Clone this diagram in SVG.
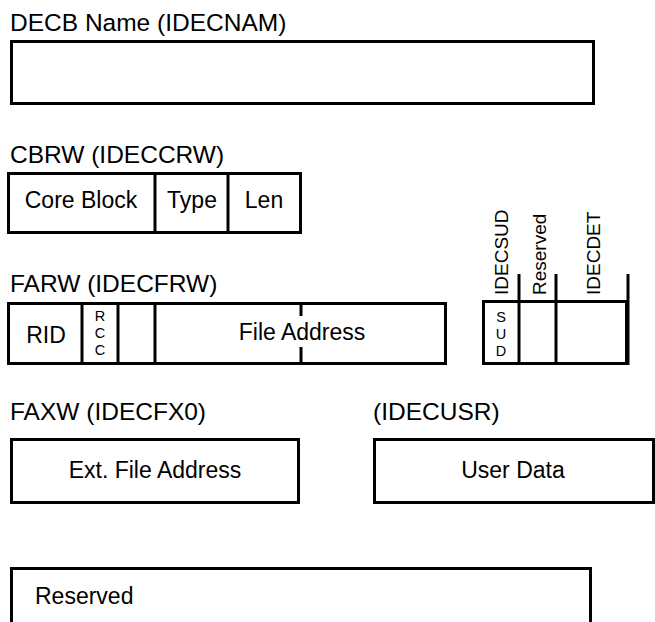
<svg xmlns="http://www.w3.org/2000/svg" width="655" height="622" viewBox="0 0 655 622">
<style>
  .box{fill:none;stroke:#000;stroke-width:3}
  .ln{stroke:#000;stroke-width:3;fill:none}
  .t{font-family:"Liberation Sans",Arial,sans-serif;font-size:23px;fill:#000}
  .ttl{font-family:"Liberation Sans",Arial,sans-serif;font-size:24.5px;fill:#000}
  .c{text-anchor:middle}
  .sm{font-family:"Liberation Sans",Arial,sans-serif;font-size:14.5px;fill:#000;text-anchor:middle}
  .rot{font-family:"Liberation Sans",Arial,sans-serif;font-size:19px;fill:#000}
</style>
<rect width="655" height="622" fill="#fff"/>

<g id="decb-name">
  <text class="ttl" x="10" y="31">DECB Name (IDECNAM)</text>
  <rect class="box" x="11.5" y="41.5" width="582" height="62"/>
</g>

<g id="cbrw">
  <text class="ttl" x="10" y="163">CBRW (IDECCRW)</text>
  <rect class="box" x="8.5" y="173.5" width="292" height="59"/>
  <line class="ln" x1="155" y1="172" x2="155" y2="234"/>
  <line class="ln" x1="228" y1="172" x2="228" y2="234"/>
  <text class="t c" x="81" y="208">Core Block</text>
  <text class="t c" x="192" y="208">Type</text>
  <text class="t c" x="264" y="208">Len</text>
</g>

<g id="farw">
  <text class="ttl" x="10" y="292">FARW (IDECFRW)</text>
  <rect class="box" x="8.5" y="303.5" width="437" height="60"/>
  <line class="ln" x1="82" y1="302" x2="82" y2="365"/>
  <line class="ln" x1="118" y1="302" x2="118" y2="365"/>
  <line class="ln" x1="155" y1="302" x2="155" y2="365"/>
  <line class="ln" x1="301" y1="302" x2="301" y2="316"/>
  <line class="ln" x1="301" y1="347" x2="301" y2="365"/>
  <text class="t c" x="46" y="343">RID</text>
  <text class="sm" x="100" y="321">R</text>
  <text class="sm" x="100" y="338">C</text>
  <text class="sm" x="100" y="355">C</text>
  <text class="t c" x="302" y="340">File Address</text>
</g>

<g id="flags">
  <rect class="box" x="483.5" y="301.5" width="143" height="62"/>
  <line class="ln" x1="519" y1="274" x2="519" y2="365"/>
  <line class="ln" x1="556" y1="274" x2="556" y2="365"/>
  <line class="ln" x1="628" y1="274" x2="628" y2="365"/>
  <text class="sm" x="501" y="322">S</text>
  <text class="sm" x="501" y="339">U</text>
  <text class="sm" x="501" y="356">D</text>
  <text class="rot" transform="translate(508 295) rotate(-90)">IDECSUD</text>
  <text class="rot" transform="translate(546 295) rotate(-90)">Reserved</text>
  <text class="rot" transform="translate(600 295) rotate(-90)">IDECDET</text>
</g>

<g id="faxw">
  <text class="ttl" x="10" y="420">FAXW (IDECFX0)</text>
  <rect class="box" x="11.5" y="439.5" width="287" height="63"/>
  <text class="t c" x="155" y="478">Ext. File Address</text>
</g>

<g id="user-data">
  <text class="ttl" x="373" y="420">(IDECUSR)</text>
  <rect class="box" x="374.5" y="439.5" width="279" height="63"/>
  <text class="t c" x="513" y="478">User Data</text>
</g>

<g id="reserved">
  <path class="ln" d="M11.5 630 V568.5 H590.5 V630"/>
  <text class="t" x="35" y="604">Reserved</text>
</g>

<g id="connectors"></g>
</svg>
